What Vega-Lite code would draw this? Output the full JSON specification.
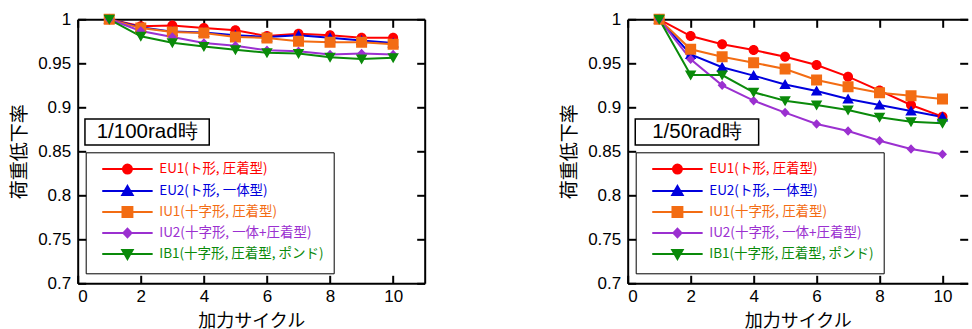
{
"$schema": "https://vega.github.io/schema/vega-lite/v6.json",
"padding": {"left": 9.7, "top": 10.3, "right": 0, "bottom": 1},
"config": {
  "view": {"stroke": null},
  "axis": {"grid": false, "domainColor": "black", "domainWidth": 2, "tickColor": "black", "tickWidth": 2, "tickSize": -8,
    "labelFont": "Liberation Sans", "labelFontSize": 17, "labelColor": "black",
    "titleFont": "Noto Sans CJK JP", "titleFontWeight": "normal", "titleColor": "black"},
  "legend": {"orient": "none", "legendX": 8, "legendY": 133, "strokeColor": "black", "padding": 10,
    "symbolOffset": 25, "symbolSize": 81, "symbolStrokeWidth": 2, "labelOffset": 25, "rowPadding": 3, "labelLimit": 400,
    "labelFont": "Noto Sans CJK JP", "labelFontSize": 13.5, "symbolOpacity": 1}
},
"datasets": {"d": [
{"panel":"L","series":"EU1(ト形, 圧着型)","cycle":1,"ratio":1},
{"panel":"L","series":"EU1(ト形, 圧着型)","cycle":2,"ratio":0.992},
{"panel":"L","series":"EU1(ト形, 圧着型)","cycle":3,"ratio":0.993},
{"panel":"L","series":"EU1(ト形, 圧着型)","cycle":4,"ratio":0.990},
{"panel":"L","series":"EU1(ト形, 圧着型)","cycle":5,"ratio":0.9875},
{"panel":"L","series":"EU1(ト形, 圧着型)","cycle":6,"ratio":0.981},
{"panel":"L","series":"EU1(ト形, 圧着型)","cycle":7,"ratio":0.9837},
{"panel":"L","series":"EU1(ト形, 圧着型)","cycle":8,"ratio":0.982},
{"panel":"L","series":"EU1(ト形, 圧着型)","cycle":9,"ratio":0.979},
{"panel":"L","series":"EU1(ト形, 圧着型)","cycle":10,"ratio":0.979},
{"panel":"L","series":"EU2(ト形, 一体型)","cycle":1,"ratio":1},
{"panel":"L","series":"EU2(ト形, 一体型)","cycle":2,"ratio":0.991},
{"panel":"L","series":"EU2(ト形, 一体型)","cycle":3,"ratio":0.986},
{"panel":"L","series":"EU2(ト形, 一体型)","cycle":4,"ratio":0.985},
{"panel":"L","series":"EU2(ト形, 一体型)","cycle":5,"ratio":0.982},
{"panel":"L","series":"EU2(ト形, 一体型)","cycle":6,"ratio":0.980},
{"panel":"L","series":"EU2(ト形, 一体型)","cycle":7,"ratio":0.9818},
{"panel":"L","series":"EU2(ト形, 一体型)","cycle":8,"ratio":0.979},
{"panel":"L","series":"EU2(ト形, 一体型)","cycle":9,"ratio":0.976},
{"panel":"L","series":"EU2(ト形, 一体型)","cycle":10,"ratio":0.973},
{"panel":"L","series":"IU1(十字形, 圧着型)","cycle":1,"ratio":1},
{"panel":"L","series":"IU1(十字形, 圧着型)","cycle":2,"ratio":0.990},
{"panel":"L","series":"IU1(十字形, 圧着型)","cycle":3,"ratio":0.9856},
{"panel":"L","series":"IU1(十字形, 圧着型)","cycle":4,"ratio":0.9844},
{"panel":"L","series":"IU1(十字形, 圧着型)","cycle":5,"ratio":0.980},
{"panel":"L","series":"IU1(十字形, 圧着型)","cycle":6,"ratio":0.9788},
{"panel":"L","series":"IU1(十字形, 圧着型)","cycle":7,"ratio":0.975},
{"panel":"L","series":"IU1(十字形, 圧着型)","cycle":8,"ratio":0.974},
{"panel":"L","series":"IU1(十字形, 圧着型)","cycle":9,"ratio":0.974},
{"panel":"L","series":"IU1(十字形, 圧着型)","cycle":10,"ratio":0.9716},
{"panel":"L","series":"IU2(十字形, 一体+圧着型)","cycle":1,"ratio":1},
{"panel":"L","series":"IU2(十字形, 一体+圧着型)","cycle":2,"ratio":0.9867},
{"panel":"L","series":"IU2(十字形, 一体+圧着型)","cycle":3,"ratio":0.980},
{"panel":"L","series":"IU2(十字形, 一体+圧着型)","cycle":4,"ratio":0.973},
{"panel":"L","series":"IU2(十字形, 一体+圧着型)","cycle":5,"ratio":0.970},
{"panel":"L","series":"IU2(十字形, 一体+圧着型)","cycle":6,"ratio":0.9647},
{"panel":"L","series":"IU2(十字形, 一体+圧着型)","cycle":7,"ratio":0.9636},
{"panel":"L","series":"IU2(十字形, 一体+圧着型)","cycle":8,"ratio":0.960},
{"panel":"L","series":"IU2(十字形, 一体+圧着型)","cycle":9,"ratio":0.961},
{"panel":"L","series":"IU2(十字形, 一体+圧着型)","cycle":10,"ratio":0.960},
{"panel":"L","series":"IB1(十字形, 圧着型, ポンド)","cycle":1,"ratio":1},
{"panel":"L","series":"IB1(十字形, 圧着型, ポンド)","cycle":2,"ratio":0.9807},
{"panel":"L","series":"IB1(十字形, 圧着型, ポンド)","cycle":3,"ratio":0.9734},
{"panel":"L","series":"IB1(十字形, 圧着型, ポンド)","cycle":4,"ratio":0.969},
{"panel":"L","series":"IB1(十字形, 圧着型, ポンド)","cycle":5,"ratio":0.9655},
{"panel":"L","series":"IB1(十字形, 圧着型, ポンド)","cycle":6,"ratio":0.962},
{"panel":"L","series":"IB1(十字形, 圧着型, ポンド)","cycle":7,"ratio":0.961},
{"panel":"L","series":"IB1(十字形, 圧着型, ポンド)","cycle":8,"ratio":0.957},
{"panel":"L","series":"IB1(十字形, 圧着型, ポンド)","cycle":9,"ratio":0.955},
{"panel":"L","series":"IB1(十字形, 圧着型, ポンド)","cycle":10,"ratio":0.9564},
{"panel":"R","series":"EU1(ト形, 圧着型)","cycle":1,"ratio":1},
{"panel":"R","series":"EU1(ト形, 圧着型)","cycle":2,"ratio":0.981},
{"panel":"R","series":"EU1(ト形, 圧着型)","cycle":3,"ratio":0.9716},
{"panel":"R","series":"EU1(ト形, 圧着型)","cycle":4,"ratio":0.965},
{"panel":"R","series":"EU1(ト形, 圧着型)","cycle":5,"ratio":0.9575},
{"panel":"R","series":"EU1(ト形, 圧着型)","cycle":6,"ratio":0.948},
{"panel":"R","series":"EU1(ト形, 圧着型)","cycle":7,"ratio":0.9348},
{"panel":"R","series":"EU1(ト形, 圧着型)","cycle":8,"ratio":0.919},
{"panel":"R","series":"EU1(ト形, 圧着型)","cycle":9,"ratio":0.9026},
{"panel":"R","series":"EU1(ト形, 圧着型)","cycle":10,"ratio":0.8894},
{"panel":"R","series":"EU2(ト形, 一体型)","cycle":1,"ratio":1},
{"panel":"R","series":"EU2(ト形, 一体型)","cycle":2,"ratio":0.960},
{"panel":"R","series":"EU2(ト形, 一体型)","cycle":3,"ratio":0.9455},
{"panel":"R","series":"EU2(ト形, 一体型)","cycle":4,"ratio":0.936},
{"panel":"R","series":"EU2(ト形, 一体型)","cycle":5,"ratio":0.926},
{"panel":"R","series":"EU2(ト形, 一体型)","cycle":6,"ratio":0.9185},
{"panel":"R","series":"EU2(ト形, 一体型)","cycle":7,"ratio":0.9095},
{"panel":"R","series":"EU2(ト形, 一体型)","cycle":8,"ratio":0.9026},
{"panel":"R","series":"EU2(ト形, 一体型)","cycle":9,"ratio":0.8958},
{"panel":"R","series":"EU2(ト形, 一体型)","cycle":10,"ratio":0.889},
{"panel":"R","series":"IU1(十字形, 圧着型)","cycle":1,"ratio":1},
{"panel":"R","series":"IU1(十字形, 圧着型)","cycle":2,"ratio":0.966},
{"panel":"R","series":"IU1(十字形, 圧着型)","cycle":3,"ratio":0.9575},
{"panel":"R","series":"IU1(十字形, 圧着型)","cycle":4,"ratio":0.9507},
{"panel":"R","series":"IU1(十字形, 圧着型)","cycle":5,"ratio":0.9435},
{"panel":"R","series":"IU1(十字形, 圧着型)","cycle":6,"ratio":0.931},
{"panel":"R","series":"IU1(十字形, 圧着型)","cycle":7,"ratio":0.9234},
{"panel":"R","series":"IU1(十字形, 圧着型)","cycle":8,"ratio":0.9166},
{"panel":"R","series":"IU1(十字形, 圧着型)","cycle":9,"ratio":0.9132},
{"panel":"R","series":"IU1(十字形, 圧着型)","cycle":10,"ratio":0.9095},
{"panel":"R","series":"IU2(十字形, 一体+圧着型)","cycle":1,"ratio":1},
{"panel":"R","series":"IU2(十字形, 一体+圧着型)","cycle":2,"ratio":0.9545},
{"panel":"R","series":"IU2(十字形, 一体+圧着型)","cycle":3,"ratio":0.925},
{"panel":"R","series":"IU2(十字形, 一体+圧着型)","cycle":4,"ratio":0.9075},
{"panel":"R","series":"IU2(十字形, 一体+圧着型)","cycle":5,"ratio":0.894},
{"panel":"R","series":"IU2(十字形, 一体+圧着型)","cycle":6,"ratio":0.881},
{"panel":"R","series":"IU2(十字形, 一体+圧着型)","cycle":7,"ratio":0.873},
{"panel":"R","series":"IU2(十字形, 一体+圧着型)","cycle":8,"ratio":0.862},
{"panel":"R","series":"IU2(十字形, 一体+圧着型)","cycle":9,"ratio":0.8527},
{"panel":"R","series":"IU2(十字形, 一体+圧着型)","cycle":10,"ratio":0.8466},
{"panel":"R","series":"IB1(十字形, 圧着型, ポンド)","cycle":1,"ratio":1},
{"panel":"R","series":"IB1(十字形, 圧着型, ポンド)","cycle":2,"ratio":0.9367},
{"panel":"R","series":"IB1(十字形, 圧着型, ポンド)","cycle":3,"ratio":0.9367},
{"panel":"R","series":"IB1(十字形, 圧着型, ポンド)","cycle":4,"ratio":0.917},
{"panel":"R","series":"IB1(十字形, 圧着型, ポンド)","cycle":5,"ratio":0.9075},
{"panel":"R","series":"IB1(十字形, 圧着型, ポンド)","cycle":6,"ratio":0.9026},
{"panel":"R","series":"IB1(十字形, 圧着型, ポンド)","cycle":7,"ratio":0.897},
{"panel":"R","series":"IB1(十字形, 圧着型, ポンド)","cycle":8,"ratio":0.8887},
{"panel":"R","series":"IB1(十字形, 圧着型, ポンド)","cycle":9,"ratio":0.8837},
{"panel":"R","series":"IB1(十字形, 圧着型, ポンド)","cycle":10,"ratio":0.8818}
]},
"spacing": 134,
"resolve": {"scale": {"shape": "independent", "fill": "independent", "stroke": "independent", "color": "independent"}, "legend": {"shape": "independent", "fill": "independent", "stroke": "independent"}},
"hconcat": [
{
  "width": 347, "height": 264,
  "layer": [
    {
      "data": {"values": [{"label": "1/100rad時"}]},
      "mark": {"type": "rect", "fill": "white", "stroke": "black", "strokeWidth": 1.5},
      "encoding": {
        "x": {"datum": 0.23, "type": "quantitative", "scale": {"domain": [0, 11], "nice": false, "zero": false},
          "axis": {"orient": "top", "values": [0,2,4,6,8,10], "labels": false, "title": null, "domain": true}},
        "x2": {"datum": 4.17},
        "y": {"datum": 0.8867, "type": "quantitative", "scale": {"domain": [0.7, 1], "nice": false, "zero": false},
          "axis": {"orient": "right", "values": [0.7,0.75,0.8,0.85,0.9,0.95,1], "labels": false, "title": null, "domain": true}},
        "y2": {"datum": 0.8572}
      }
    },
    {
      "data": {"values": [{"label": "1/100rad時"}]},
      "mark": {"type": "text", "align": "center", "baseline": "middle", "font": "Liberation Sans", "fontSize": 20.5, "color": "black"},
      "encoding": {
        "x": {"datum": 2.2, "type": "quantitative", "scale": {"domain": [0, 11], "nice": false, "zero": false}, "axis": null},
        "y": {"datum": 0.8715, "type": "quantitative", "scale": {"domain": [0.7, 1], "nice": false, "zero": false}, "axis": null},
        "text": {"field": "label"}
      }
    },
    {
      "data": {"name": "d"},
      "transform": [{"filter": "datum.panel === 'L'"}],
      "mark": {"type": "line", "strokeWidth": 2},
      "encoding": {
        "x": {"field": "cycle", "type": "quantitative", "scale": {"domain": [0, 11], "nice": false, "zero": false},
          "axis": {"orient": "bottom", "values": [0,2,4,6,8,10], "title": "加力サイクル", "titleFontSize": 18, "labelPadding": 13, "titlePadding": 8, "domain": true}},
        "y": {"field": "ratio", "type": "quantitative", "scale": {"domain": [0.7, 1], "nice": false, "zero": false},
          "axis": {"orient": "left", "values": [0.7,0.75,0.8,0.85,0.9,0.95,1], "format": "~g", "title": "荷重低下率", "titleFontSize": 19, "labelPadding": 15, "titlePadding": 8, "domain": true}},
        "color": {"field": "series", "type": "nominal", "legend": null,
          "scale": {"domain": ["IB1(十字形, 圧着型, ポンド)","IU2(十字形, 一体+圧着型)","IU1(十字形, 圧着型)","EU2(ト形, 一体型)","EU1(ト形, 圧着型)"],
                    "range": ["#0a8a0a","#9b30d0","#f36c13","#0000dd","#ff0000"]}},
        "order": {"field": "cycle"}
      }
    },
    {
      "data": {"name": "d"},
      "transform": [{"filter": "datum.panel === 'L'"}],
      "mark": {"type": "point", "filled": true, "opacity": 1, "size": 100},
      "encoding": {
        "x": {"field": "cycle", "type": "quantitative", "scale": {"domain": [0, 11], "nice": false, "zero": false}, "axis": null},
        "y": {"field": "ratio", "type": "quantitative", "scale": {"domain": [0.7, 1], "nice": false, "zero": false}, "axis": null},
        "strokeWidth": {"value": 0},
        "fill": {"field": "series", "type": "nominal",
          "scale": {"domain": ["EU1(ト形, 圧着型)","EU2(ト形, 一体型)","IU1(十字形, 圧着型)","IU2(十字形, 一体+圧着型)","IB1(十字形, 圧着型, ポンド)"],
                    "range": ["#ff0000","#0000dd","#f36c13","#9b30d0","#0a8a0a"]},
          "legend": {"title": null, "labelColor": {"expr": "['#ff0000','#0000dd','#f36c13','#9b30d0','#0a8a0a'][indexof(['EU1(ト形, 圧着型)','EU2(ト形, 一体型)','IU1(十字形, 圧着型)','IU2(十字形, 一体+圧着型)','IB1(十字形, 圧着型, ポンド)'], datum.value)]"}}},
        "stroke": {"field": "series", "type": "nominal",
          "scale": {"domain": ["EU1(ト形, 圧着型)","EU2(ト形, 一体型)","IU1(十字形, 圧着型)","IU2(十字形, 一体+圧着型)","IB1(十字形, 圧着型, ポンド)"],
                    "range": ["#ff0000","#0000dd","#f36c13","#9b30d0","#0a8a0a"]},
          "legend": {"title": null, "labelColor": {"expr": "['#ff0000','#0000dd','#f36c13','#9b30d0','#0a8a0a'][indexof(['EU1(ト形, 圧着型)','EU2(ト形, 一体型)','IU1(十字形, 圧着型)','IU2(十字形, 一体+圧着型)','IB1(十字形, 圧着型, ポンド)'], datum.value)]"}}},
        "shape": {"field": "series", "type": "nominal",
          "scale": {"domain": ["EU1(ト形, 圧着型)","EU2(ト形, 一体型)","IU1(十字形, 圧着型)","IU2(十字形, 一体+圧着型)","IB1(十字形, 圧着型, ポンド)"],
                    "range": ["M-5.6,0H5.6M1,0A1,1,0,1,1,-1,0A1,1,0,1,1,1,0Z","M-5.6,0H5.6M0,-1.1L1.15,0.9L-1.15,0.9Z","M-5.6,0H5.6M-1.1,-1.1H1.1V1.1H-1.1Z","M-5.6,0H5.6M0,-0.95L0.9,0L0,0.95L-0.9,0Z","M-5.6,0H5.6M0,1.1L1.15,-0.9L-1.15,-0.9Z"]},
          "legend": {"title": null, "labelColor": {"expr": "['#ff0000','#0000dd','#f36c13','#9b30d0','#0a8a0a'][indexof(['EU1(ト形, 圧着型)','EU2(ト形, 一体型)','IU1(十字形, 圧着型)','IU2(十字形, 一体+圧着型)','IB1(十字形, 圧着型, ポンド)'], datum.value)]"}}}
      }
    }
  ],
  "resolve": {"axis": {"x": "independent", "y": "independent"}}
},
{
  "width": 340, "height": 264,
  "layer": [
    {
      "data": {"values": [{"label": "1/50rad時"}]},
      "mark": {"type": "rect", "fill": "white", "stroke": "black", "strokeWidth": 1.5},
      "encoding": {
        "x": {"datum": 0.24, "type": "quantitative", "scale": {"domain": [0, 10.8], "nice": false, "zero": false},
          "axis": {"orient": "top", "values": [0,2,4,6,8,10], "labels": false, "title": null, "domain": true}},
        "x2": {"datum": 4.16},
        "y": {"datum": 0.8867, "type": "quantitative", "scale": {"domain": [0.7, 1], "nice": false, "zero": false},
          "axis": {"orient": "right", "values": [0.7,0.75,0.8,0.85,0.9,0.95,1], "labels": false, "title": null, "domain": false}},
        "y2": {"datum": 0.8572}
      }
    },
    {
      "data": {"values": [{"label": "1/50rad時"}]},
      "mark": {"type": "text", "align": "center", "baseline": "middle", "font": "Liberation Sans", "fontSize": 20.5, "color": "black"},
      "encoding": {
        "x": {"datum": 2.2, "type": "quantitative", "scale": {"domain": [0, 10.8], "nice": false, "zero": false}, "axis": null},
        "y": {"datum": 0.8715, "type": "quantitative", "scale": {"domain": [0.7, 1], "nice": false, "zero": false}, "axis": null},
        "text": {"field": "label"}
      }
    },
    {
      "data": {"name": "d"},
      "transform": [{"filter": "datum.panel === 'R'"}],
      "mark": {"type": "line", "strokeWidth": 2},
      "encoding": {
        "x": {"field": "cycle", "type": "quantitative", "scale": {"domain": [0, 10.8], "nice": false, "zero": false},
          "axis": {"orient": "bottom", "values": [0,2,4,6,8,10], "title": "加力サイクル", "titleFontSize": 18, "labelPadding": 13, "titlePadding": 8, "domain": true}},
        "y": {"field": "ratio", "type": "quantitative", "scale": {"domain": [0.7, 1], "nice": false, "zero": false},
          "axis": {"orient": "left", "values": [0.7,0.75,0.8,0.85,0.9,0.95,1], "format": "~g", "title": "荷重低下率", "titleFontSize": 19, "labelPadding": 15, "titlePadding": 8, "domain": true}},
        "color": {"field": "series", "type": "nominal", "legend": null,
          "scale": {"domain": ["IB1(十字形, 圧着型, ポンド)","IU2(十字形, 一体+圧着型)","IU1(十字形, 圧着型)","EU2(ト形, 一体型)","EU1(ト形, 圧着型)"],
                    "range": ["#0a8a0a","#9b30d0","#f36c13","#0000dd","#ff0000"]}},
        "order": {"field": "cycle"}
      }
    },
    {
      "data": {"name": "d"},
      "transform": [{"filter": "datum.panel === 'R'"}],
      "mark": {"type": "point", "filled": true, "opacity": 1, "size": 100},
      "encoding": {
        "x": {"field": "cycle", "type": "quantitative", "scale": {"domain": [0, 10.8], "nice": false, "zero": false}, "axis": null},
        "y": {"field": "ratio", "type": "quantitative", "scale": {"domain": [0.7, 1], "nice": false, "zero": false}, "axis": null},
        "strokeWidth": {"value": 0},
        "fill": {"field": "series", "type": "nominal",
          "scale": {"domain": ["EU1(ト形, 圧着型)","EU2(ト形, 一体型)","IU1(十字形, 圧着型)","IU2(十字形, 一体+圧着型)","IB1(十字形, 圧着型, ポンド)"],
                    "range": ["#ff0000","#0000dd","#f36c13","#9b30d0","#0a8a0a"]},
          "legend": {"title": null, "labelColor": {"expr": "['#ff0000','#0000dd','#f36c13','#9b30d0','#0a8a0a'][indexof(['EU1(ト形, 圧着型)','EU2(ト形, 一体型)','IU1(十字形, 圧着型)','IU2(十字形, 一体+圧着型)','IB1(十字形, 圧着型, ポンド)'], datum.value)]"}}},
        "stroke": {"field": "series", "type": "nominal",
          "scale": {"domain": ["EU1(ト形, 圧着型)","EU2(ト形, 一体型)","IU1(十字形, 圧着型)","IU2(十字形, 一体+圧着型)","IB1(十字形, 圧着型, ポンド)"],
                    "range": ["#ff0000","#0000dd","#f36c13","#9b30d0","#0a8a0a"]},
          "legend": {"title": null, "labelColor": {"expr": "['#ff0000','#0000dd','#f36c13','#9b30d0','#0a8a0a'][indexof(['EU1(ト形, 圧着型)','EU2(ト形, 一体型)','IU1(十字形, 圧着型)','IU2(十字形, 一体+圧着型)','IB1(十字形, 圧着型, ポンド)'], datum.value)]"}}},
        "shape": {"field": "series", "type": "nominal",
          "scale": {"domain": ["EU1(ト形, 圧着型)","EU2(ト形, 一体型)","IU1(十字形, 圧着型)","IU2(十字形, 一体+圧着型)","IB1(十字形, 圧着型, ポンド)"],
                    "range": ["M-5.6,0H5.6M1,0A1,1,0,1,1,-1,0A1,1,0,1,1,1,0Z","M-5.6,0H5.6M0,-1.1L1.15,0.9L-1.15,0.9Z","M-5.6,0H5.6M-1.1,-1.1H1.1V1.1H-1.1Z","M-5.6,0H5.6M0,-0.95L0.9,0L0,0.95L-0.9,0Z","M-5.6,0H5.6M0,1.1L1.15,-0.9L-1.15,-0.9Z"]},
          "legend": {"title": null, "labelColor": {"expr": "['#ff0000','#0000dd','#f36c13','#9b30d0','#0a8a0a'][indexof(['EU1(ト形, 圧着型)','EU2(ト形, 一体型)','IU1(十字形, 圧着型)','IU2(十字形, 一体+圧着型)','IB1(十字形, 圧着型, ポンド)'], datum.value)]"}}}
      }
    }
  ],
  "resolve": {"axis": {"x": "independent", "y": "independent"}}
}
]
}
